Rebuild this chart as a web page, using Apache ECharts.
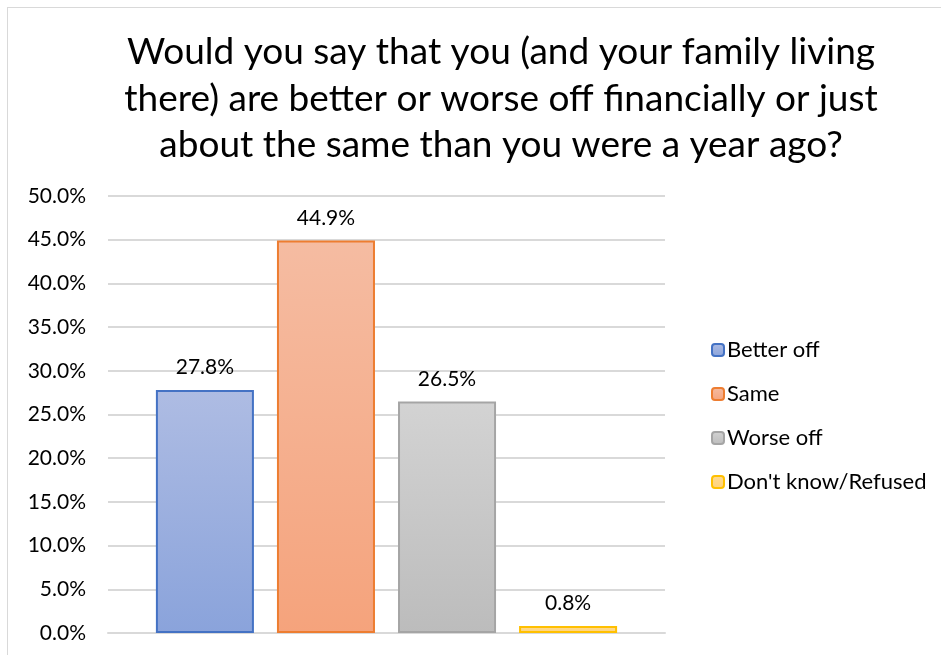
<!DOCTYPE html>
<html><head><meta charset="utf-8">
<script src="https://cdn.jsdelivr.net/npm/echarts@6/dist/echarts.min.js"></script>
<style>
html,body{margin:0;padding:0;background:#fff;}
#frame{position:absolute;left:7px;top:7px;width:960px;height:680px;border:1px solid #d9d9d9;}
#c{position:absolute;left:0;top:0;width:941px;height:655px;}
</style></head>
<body>
<div id="frame"></div>
<div id="c"></div>
<script>
const titleText = "Would you say that you (and your family living\nthere) are better or worse off financially or just\nabout the same than you were a year ago?";
const categories = [""];
const seriesNames = ["Better off", "Same", "Worse off", "Don't know/Refused"];
const values = [27.8, 44.9, 26.5, 0.8];
const yTicks = { min: 0, max: 50, interval: 5 };

const fills = [
  ["#aebce3", "#8aa3db"],
  ["#f5bca2", "#f5a37c"],
  ["#d3d3d3", "#bcbcbc"],
  ["#ffdb91", "#ffd27a"]
];
const borders = ["#4472c4", "#ed7d31", "#a5a5a5", "#ffc000"];
const font = "Lato, 'Noto Sans', sans-serif";

const chart = echarts.init(document.getElementById('c'));
chart.setOption({
  animation: false,
  title: {
    text: titleText, left: 496, top: 24, textAlign: 'center',
    textStyle: { fontFamily: font, fontSize: 37, fontWeight: 'normal', color: '#000', lineHeight: 46.5 }
  },
  legend: {
    orient: 'vertical', left: 706, top: 334, itemWidth: 12, itemHeight: 12, itemGap: 22,
    textStyle: { fontFamily: font, fontSize: 22, color: '#000', padding: [0,0,0,-2] },
    data: seriesNames
  },
  grid: { left: 108, right: 276, top: 196, bottom: 22, containLabel: false },
  xAxis: {
    type: 'category', data: categories,
    axisLine: { show: true, lineStyle: { color: '#d9d9d9', width: 2 } },
    axisTick: { show: false }, axisLabel: { show: false }
  },
  yAxis: {
    type: 'value', min: yTicks.min, max: yTicks.max, interval: yTicks.interval,
    axisLine: { show: false }, axisTick: { show: false },
    splitLine: { lineStyle: { color: '#d9d9d9', width: 2 } },
    axisLabel: { fontFamily: font, fontSize: 21, color: '#000', margin: 22,
      formatter: v => v.toFixed(1) + '%' }
  },
  series: seriesNames.map((n, i) => ({
    name: n, type: 'bar', data: [values[i]],
    barGap: '23.5%', barCategoryGap: '17.2%',
    itemStyle: {
      color: new echarts.graphic.LinearGradient(0, 0, 0, 1, [
        { offset: 0, color: fills[i][0] }, { offset: 1, color: fills[i][1] }]),
      borderColor: borders[i], borderWidth: 2
    },
    label: { show: true, position: 'top', distance: 12, fontFamily: font, fontSize: 21, color: '#000',
      formatter: p => p.value.toFixed(1) + '%' }
  }))
});
</script>
</body></html>
